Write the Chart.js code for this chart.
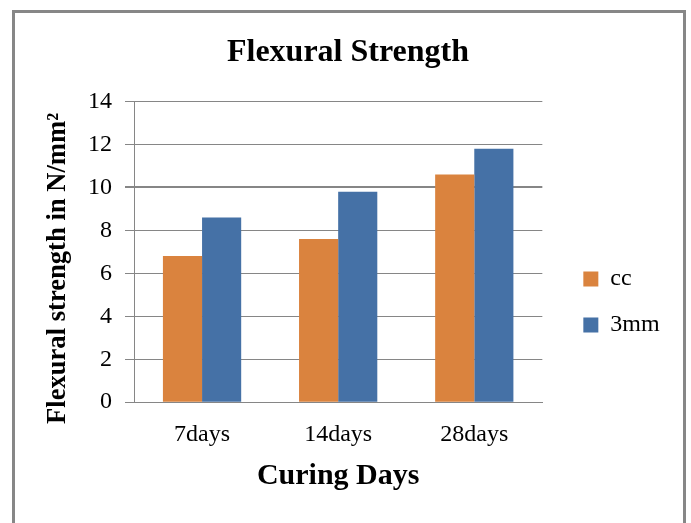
<!DOCTYPE html>
<html>
<head>
<meta charset="utf-8">
<script src="https://cdn.jsdelivr.net/npm/chart.js@4/dist/chart.umd.min.js"></script>
<style>
  html, body { margin: 0; padding: 0; background: #ffffff; }
  #wrap { position: relative; width: 691px; height: 523px; }
</style>
</head>
<body>
<div id="wrap"><canvas id="c" width="691" height="523"></canvas></div>
<script>
const categories = ['7days', '14days', '28days'];
const seriesNames = ['cc', '3mm'];
const ccValues = [6.8, 7.6, 10.6];
const mmValues = [8.6, 9.8, 11.8];
const yTicks = [0, 2, 4, 6, 8, 10, 12, 14];

const SERIF = '"Liberation Serif", "Times New Roman", serif';
const GRID = '#868686';

const framePlugin = {
  id: 'frame',
  beforeDraw(chart) {
    const ctx = chart.ctx;
    ctx.save();
    ctx.fillStyle = '#ffffff';
    ctx.fillRect(0, 0, chart.width, chart.height);
    ctx.strokeStyle = '#878787';
    ctx.lineWidth = 3;
    ctx.strokeRect(13.5, 11.5, 671, 540);
    ctx.restore();
  }
};

new Chart(document.getElementById('c'), {
  type: 'bar',
  data: {
    labels: categories,
    datasets: [
      { label: seriesNames[0], data: ccValues, backgroundColor: '#DA833E', categoryPercentage: 0.575, barPercentage: 1 },
      { label: seriesNames[1], data: mmValues, backgroundColor: '#4571A6', categoryPercentage: 0.575, barPercentage: 1 }
    ]
  },
  options: {
    responsive: false,
    animation: false,
    devicePixelRatio: 1,
    layout: { padding: { left: 28, right: 23, top: 12, bottom: 25 } },
    plugins: {
      title: {
        display: true,
        text: 'Flexural Strength',
        color: '#000',
        font: { family: SERIF, size: 32, weight: 'bold' },
        padding: { top: 22, bottom: 29 }
      },
      legend: {
        display: true,
        position: 'right',
        title: { display: true, text: '', font: { size: 10 }, padding: { top: 0, bottom: 82 } },
        labels: {
          color: '#000',
          font: { family: SERIF, size: 24 },
          boxWidth: 15,
          boxHeight: 15,
          padding: 22
        }
      },
      tooltip: { enabled: false }
    },
    scales: {
      x: {
        grid: { display: false, drawTicks: false },
        border: { display: true, color: GRID, width: 1 },
        ticks: { color: '#000', font: { family: SERIF, size: 24 }, padding: 18 },
        title: {
          display: true,
          text: 'Curing Days',
          color: '#000',
          font: { family: SERIF, size: 30, weight: 'bold' },
          padding: { top: -9, bottom: 4 }
        }
      },
      y: {
        min: 0,
        max: 14,
        afterBuildTicks(scale) { scale.ticks = yTicks.map(v => ({ value: v })); },
        afterFit(scale) { scale.width = 106; },
        grid: {
          color: GRID,
          lineWidth: (ctx) => (ctx.tick && ctx.tick.value === 10 ? 2 : 1),
          drawTicks: true,
          tickLength: 9
        },
        border: { display: true, color: GRID, width: 1 },
        ticks: { color: '#000', font: { family: SERIF, size: 24 }, padding: 13 },
        title: {
          display: true,
          text: 'Flexural strength in N/mm\u00B2\u00A0\u00A0\u00A0\u00A0\u00A0',
          color: '#000',
          font: { family: SERIF, size: 26.6, weight: 'bold' },
          padding: { top: 14, bottom: 0 }
        }
      },
      gap: {
        type: 'linear',
        position: 'right',
        display: true,
        afterFit(scale) { scale.width = 19; },
        grid: { display: false, drawTicks: false },
        border: { display: false },
        ticks: { display: false },
        title: { display: false }
      }
    }
  },
  plugins: [framePlugin]
});
</script>
</body>
</html>
